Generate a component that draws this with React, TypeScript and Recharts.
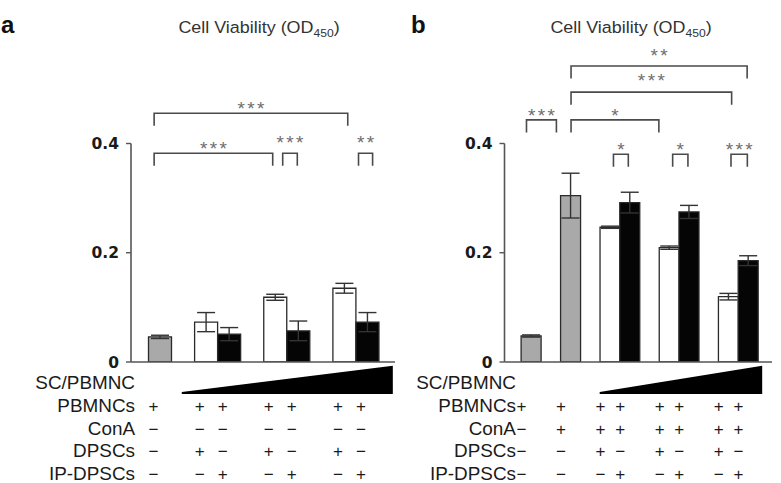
import { BarChart, Bar, XAxis, YAxis, Cell, ErrorBar, ReferenceLine, ReferenceDot } from "recharts";

// ---- panel a: PBMNCs without ConA ----
const A_KEYS = ["ctrl", "gap-1", "dpsc-1", "ip-1", "gap-2", "dpsc-2", "ip-2", "gap-3", "dpsc-3", "ip-3"];
const A_KIND = ["grey", "", "white", "black", "", "white", "black", "", "white", "black"];
const A_VALUES = [0.046, null, 0.073, 0.051, null, 0.1185, 0.057, null, 0.135, 0.073];
const A_ERRORS = [0.003, null, 0.0175, 0.012, null, 0.0055, 0.018, null, 0.009, 0.0175];
const A_PBMNC = ["+", "", "+", "+", "", "+", "+", "", "+", "+"];
const A_CONA = ["−", "", "−", "−", "", "−", "−", "", "−", "−"];
const A_DPSC = ["−", "", "+", "−", "", "+", "−", "", "+", "−"];
const A_IPDPSC = ["−", "", "−", "+", "", "−", "+", "", "−", "+"];
// brackets in category-index units, heights in OD
const A_BRACKETS = [
  { from: 0.22, to: 7.78, y: 0.4555, labelY: 0.4725, label: "***" },
  { from: 0.22, to: 4.85, y: 0.3822, labelY: 0.3987, label: "***" },
  { from: 5.24, to: 5.81, y: 0.3822, labelY: 0.4108, label: "***" },
  { from: 8.2, to: 8.75, y: 0.3822, labelY: 0.4108, label: "**" },
];
const A_WEDGE = { from: 1.3, to: 9.54, low: -0.0586, high: -0.0068 };

// ---- panel b: PBMNCs stimulated with ConA ----
const B_KEYS = ["ctrl", "gap-0", "cona", "gap-1", "dpsc-1", "ip-1", "gap-2", "dpsc-2", "ip-2", "gap-3", "dpsc-3", "ip-3"];
const B_KIND = ["grey", "", "grey", "", "white", "black", "", "white", "black", "", "white", "black"];
const B_VALUES = [0.0476, null, 0.3046, null, 0.2467, 0.2918, null, 0.2093, 0.2747, null, 0.1196, 0.1855];
const B_ERRORS = [0.002, null, 0.041, null, 0.002, 0.019, null, 0.003, 0.012, null, 0.006, 0.009];
const B_PBMNC = ["+", "", "+", "", "+", "+", "", "+", "+", "", "+", "+"];
const B_CONA = ["−", "", "+", "", "+", "+", "", "+", "+", "", "+", "+"];
const B_DPSC = ["−", "", "−", "", "+", "−", "", "+", "−", "", "+", "−"];
const B_IPDPSC = ["−", "", "−", "", "−", "+", "", "−", "+", "", "−", "+"];
const B_BRACKETS = [
  { from: 2.32, to: 10.5, y: 0.542, labelY: 0.5696, label: "**" },
  { from: 2.32, to: 9.78, y: 0.494, labelY: 0.5238, label: "***" },
  { from: 2.32, to: 6.4, y: 0.4432, labelY: 0.4603, label: "*" },
  { from: 0.25, to: 1.64, y: 0.4432, labelY: 0.4603, label: "***" },
  { from: 4.29, to: 4.98, y: 0.3804, labelY: 0.3974, label: "*" },
  { from: 7.04, to: 7.75, y: 0.3804, labelY: 0.3974, label: "*" },
  { from: 9.75, to: 10.51, y: 0.3804, labelY: 0.3974, label: "***" },
];
const B_WEDGE = { from: 3.65, to: 11.2, low: -0.0586, high: -0.0068 };

const ROW_LABELS = ["SC/PBMNC", "PBMNCs", "ConA", "DPSCs", "IP-DPSCs"];
const Y_TICKS = [0, 0.2, 0.4];

const FILLS: Record<string, string> = { grey: "#a9a9a9", white: "#ffffff", black: "#050505", "": "none" };
const ROW_DY = [21, 44.5, 67, 89, 112];
const LEG = 12.5;
const SANS = "'Liberation Sans', Arial, sans-serif";
const AXIS = "#555";

type Bracket = { from: number; to: number; y: number; labelY: number; label: string };

function makeTick(rows: string[][], labelDx: number, signDx: number) {
  return (props: any) => {
    const { x, y } = props;
    const i = props.payload?.index ?? props.index;
    return (
      <g>
        {i === 0 &&
          ROW_LABELS.map((t, r) => (
            <text
              key={t}
              transform={`translate(${x + labelDx},${y + ROW_DY[r]}) scale(1.08,1)`}
              textAnchor="end"
              dominantBaseline="central"
              fontSize={17.5}
              fontFamily={SANS}
              fill="#1a1a1a"
            >
              {t}
            </text>
          ))}
        {rows.map((row, r) =>
          row[i] ? (
            <text
              key={r}
              x={x + signDx}
              y={y + ROW_DY[r + 1]}
              textAnchor="middle"
              dominantBaseline="central"
              fontSize={17}
              fontFamily={SANS}
              fill="#1a1a1a"
            >
              {row[i]}
            </text>
          ) : null
        )}
      </g>
    );
  };
}

const bracketShape = (p: any) => (
  <path
    d={`M${p.x1},${p.y1 + LEG} V${p.y1} H${p.x2} V${p.y1 + LEG}`}
    fill="none"
    stroke="#4a4a4a"
    strokeWidth={1.6}
  />
);

const wedgeShape = (p: any) => (
  <polygon points={`${p.x1},${p.y1} ${p.x2},${p.y1} ${p.x2},${p.y2} ${p.x1},${p.y1 - 2}`} fill="#000" />
);

interface PanelProps {
  keys: string[];
  kinds: string[];
  values: (number | null)[];
  errors: (number | null)[];
  rows: string[][];
  brackets: Bracket[];
  wedge: { from: number; to: number; low: number; high: number };
  width: number;
  yAxisWidth: number;
  marginRight: number;
  pad: { left: number; right: number };
  labelDx: number;
  signDx: number;
}

function Panel(p: PanelProps) {
  const data = p.keys.map((key, i) => ({ key, kind: p.kinds[i], value: p.values[i], err: p.errors[i] }));
  const n = p.keys.length;
  return (
    <BarChart
      width={p.width}
      height={483}
      data={data}
      margin={{ top: 143.5, right: p.marginRight, bottom: 0, left: 0 }}
      barCategoryGap={0}
      barGap={0}
    >
      <XAxis
        xAxisId="cat"
        dataKey="key"
        type="category"
        interval={0}
        padding={p.pad}
        height={121}
        tickSize={0}
        tickMargin={0}
        tickLine={false}
        axisLine={{ stroke: AXIS, strokeWidth: 1.6 }}
        tick={makeTick(p.rows, p.labelDx, p.signDx)}
      />
      <XAxis xAxisId="num" type="number" domain={[-0.5, n - 0.5]} allowDataOverflow hide padding={p.pad} />
      <YAxis
        domain={[0, 0.4]}
        ticks={Y_TICKS}
        allowDataOverflow
        width={p.yAxisWidth}
        tickSize={5}
        tickMargin={7}
        axisLine={{ stroke: AXIS, strokeWidth: 1.6 }}
        tickLine={{ stroke: AXIS, strokeWidth: 1.4 }}
        tick={{ fontSize: 15.5, fontWeight: "bold", fontFamily: "'DejaVu Sans', Verdana, sans-serif", fill: "#1a1a1a" }}
      />
      <Bar xAxisId="cat" dataKey="value" isAnimationActive={false} stroke="#2a2a2a" strokeWidth={1.3}>
        {data.map((d) => (
          <Cell key={d.key} fill={FILLS[d.kind]} />
        ))}
        <ErrorBar dataKey="err" width={9} stroke="#333" strokeWidth={1.4} direction="y" />
      </Bar>
      {p.brackets.map((b, k) => (
        <ReferenceLine
          key={`br-${k}`}
          xAxisId="num"
          ifOverflow="visible"
          segment={[
            { x: b.from, y: b.y },
            { x: b.to, y: b.y },
          ]}
          shape={bracketShape}
        />
      ))}
      {p.brackets.map((b, k) => (
        <ReferenceDot
          key={`st-${k}`}
          xAxisId="num"
          x={(b.from + b.to) / 2}
          y={b.labelY}
          r={0}
          ifOverflow="visible"
          shape={(d: any) => (
            <text
              x={d.cx + 1.2}
              y={d.cy + 11}
              textAnchor="middle"
              fontSize={19}
              letterSpacing={2.4}
              fontFamily={SANS}
              fill="#6e6e6e"
            >
              {b.label}
            </text>
          )}
        />
      ))}
      <ReferenceLine
        xAxisId="num"
        ifOverflow="visible"
        segment={[
          { x: p.wedge.from, y: p.wedge.low },
          { x: p.wedge.to, y: p.wedge.high },
        ]}
        shape={wedgeShape}
      />
    </BarChart>
  );
}

function Title({ cx }: { cx: number }) {
  return (
    <text transform={`translate(${cx},33) scale(1.1,1)`} textAnchor="middle" fontSize={16.3} fontFamily={SANS} fill="#333">
      Cell Viability (OD
      <tspan fontSize={11} dy={4}>
        450
      </tspan>
      <tspan dy={-4}>)</tspan>
    </text>
  );
}

export default function App() {
  return (
    <div style={{ position: "absolute", left: 0, top: 0, width: 781, height: 483, background: "#fff", overflow: "hidden" }}>
      <div style={{ position: "absolute", left: 0, top: 0 }}>
        <Panel
          keys={A_KEYS}
          kinds={A_KIND}
          values={A_VALUES}
          errors={A_ERRORS}
          rows={[A_PBMNC, A_CONA, A_DPSC, A_IPDPSC]}
          brackets={A_BRACKETS}
          wedge={A_WEDGE}
          width={400}
          yAxisWidth={131}
          marginRight={5}
          pad={{ left: 17.5, right: 16 }}
          labelDx={-25}
          signDx={-6.5}
        />
      </div>
      <div style={{ position: "absolute", left: 390, top: 0 }}>
        <Panel
          keys={B_KEYS}
          kinds={B_KIND}
          values={B_VALUES}
          errors={B_ERRORS}
          rows={[B_PBMNC, B_CONA, B_DPSC, B_IPDPSC]}
          brackets={B_BRACKETS}
          wedge={B_WEDGE}
          width={391}
          yAxisWidth={114.5}
          marginRight={9}
          pad={{ left: 16.6, right: 14.1 }}
          labelDx={-15}
          signDx={-9.5}
        />
      </div>
      <svg width={781} height={60} style={{ position: "absolute", left: 0, top: 0 }}>
        <text x={1} y={33} fontSize={24} fontWeight="bold" fontFamily={SANS} fill="#111">
          a
        </text>
        <text x={411} y={33} fontSize={24} fontWeight="bold" fontFamily={SANS} fill="#111">
          b
        </text>
        <Title cx={259} />
        <Title cx={631} />
      </svg>
    </div>
  );
}
